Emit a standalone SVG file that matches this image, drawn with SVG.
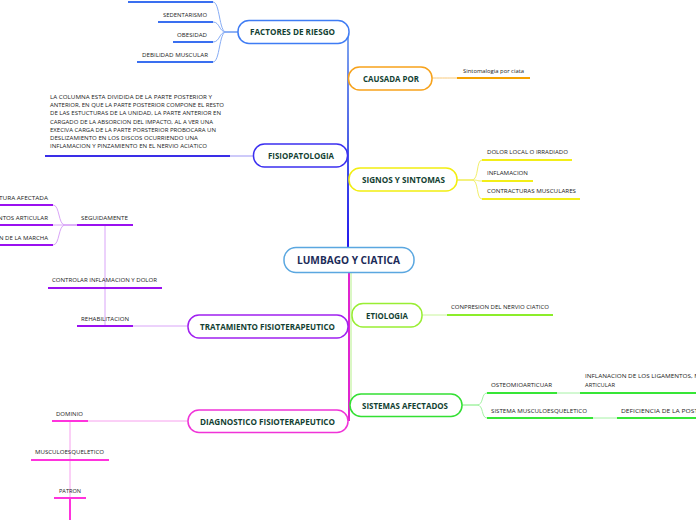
<svg xmlns="http://www.w3.org/2000/svg" width="696" height="520" viewBox="0 0 696 520">
<style>
.box{fill:#fff;stroke-width:1.5}
.title{font-family:"Open Sans","Liberation Sans",sans-serif;font-weight:bold;font-size:8.5px;fill:#123f32}
.main{font-family:"Open Sans","Liberation Sans",sans-serif;font-weight:bold;font-size:10.5px;fill:#1c2b58}
.leaf{font-family:"Open Sans","Liberation Sans",sans-serif;font-size:6px;fill:#222}
.ul{stroke-width:2;fill:none}
.thin{stroke-width:1;fill:none}
</style>
<defs>
<linearGradient id="trunkUp" gradientUnits="userSpaceOnUse" x1="348" y1="34" x2="348" y2="248">
<stop offset="0" stop-color="#7fa6ef"/>
<stop offset="0.5" stop-color="#4a5fe6"/>
<stop offset="1" stop-color="#2218ee"/>
</linearGradient>
</defs>

<g id="connectors">
<!-- trunk -->
<path d="M348,34 V248" stroke="url(#trunkUp)" stroke-width="2" fill="none"/>
<path d="M351,272 V405" stroke="#b6f08a" class="thin"/>
<path d="M349,272 V421" stroke="#e024d0" stroke-width="2" fill="none"/>
<!-- factores -->
<g stroke="#86acf5" class="thin">
<path d="M238,32 H226 C219,32 220,2 213,2"/>
<path d="M238,32 H226 C219,32 220,22 213,22"/>
<path d="M238,32 H226 C219,32 220,42 213,42"/>
<path d="M238,32 H226 C219,32 220,62 213,62"/>
</g>
<g stroke="#3a6ff0" class="ul">
<path d="M128,2 H213"/>
<path d="M158,22 H213"/>
<path d="M173,42 H213"/>
<path d="M137,62 H213"/>
</g>
<!-- fisiopatologia -->
<path d="M230,156 H253" stroke="#9c95f4" class="thin"/>
<path d="M45,156 H230" stroke="#3a2ee8" class="ul"/>
<!-- causada -->
<path d="M432,78 C445,78 445,78 457,78" stroke="#f8c97a" class="thin"/>
<path d="M457,78 H530" stroke="#f5a000" class="ul"/>
<!-- signos -->
<g stroke="#f2ef6a" class="thin">
<path d="M457,180 H472 C479,180 476,160 482,160"/>
<path d="M457,180 H472 C479,180 476,181 482,181"/>
<path d="M457,180 H472 C479,180 476,199 482,199"/>
</g>
<g stroke="#f3ee18" class="ul">
<path d="M482,160 H572"/>
<path d="M482,181 H533"/>
<path d="M482,199 H580"/>
</g>
<!-- etiologia -->
<path d="M422,315 H447" stroke="#c8f59a" class="thin"/>
<path d="M447,315 H553" stroke="#8ced2a" class="ul"/>
<!-- sistemas -->
<g stroke="#a4f2a4" class="thin">
<path d="M462,405 H477 C484,405 481,393 487,393"/>
<path d="M462,405 H477 C484,405 481,418 487,418"/>
<path d="M557,393 H580"/>
<path d="M593,418 H617"/>
</g>
<g stroke="#36e636" class="ul">
<path d="M487,393 H557"/>
<path d="M580,393 H696"/>
<path d="M487,418 H593"/>
<path d="M617,418 H696"/>
</g>
<!-- tratamiento -->
<g stroke="#d9a4f8" class="thin">
<path d="M77,225 H65 C58,225 60,205 53,205"/>
<path d="M77,225 H65 C58,225 60,225 53,225"/>
<path d="M77,225 H65 C58,225 60,245 53,245"/>
<path d="M105,225 V288"/>
<path d="M105,288 V326"/>
<path d="M133,326 H188"/>
</g>
<g stroke="#9a10f0" class="ul">
<path d="M0,205 H53"/>
<path d="M0,225 H53"/>
<path d="M0,245 H53"/>
<path d="M77,225 H133"/>
<path d="M48,288 H162"/>
<path d="M77,326 H133"/>
</g>
<!-- diagnostico -->
<g stroke="#f7a0ee" class="thin">
<path d="M88,421 H188"/>
<path d="M70,421 V460"/>
<path d="M70,460 V498"/>
</g>
<g stroke="#ff33dd" class="ul">
<path d="M52,421 H88"/>
<path d="M31,460 H109"/>
<path d="M54,498 H86"/>
<path d="M70,498 V520"/>
</g>
</g>

<g id="center">
<rect class="box" x="284" y="247.5" width="130" height="25" rx="12" stroke="#5aa7e0"/>
<text class="main" x="297" y="264" textLength="103" lengthAdjust="spacingAndGlyphs">LUMBAGO Y CIATICA</text>
</g>

<g id="factores">
<rect class="box" x="238" y="20.5" width="111" height="23" rx="11" stroke="#3f7cf4"/>
<text class="title" x="250" y="35" textLength="85" lengthAdjust="spacingAndGlyphs">FACTORES DE RIESGO</text>
<text class="leaf" x="163" y="17" textLength="44" lengthAdjust="spacingAndGlyphs">SEDENTARISMO</text>
<text class="leaf" x="177" y="37" textLength="30" lengthAdjust="spacingAndGlyphs">OBESIDAD</text>
<text class="leaf" x="142" y="57" textLength="66" lengthAdjust="spacingAndGlyphs">DEBILIDAD MUSCULAR</text>
</g>

<g id="fisiopatologia">
<rect class="box" x="253.5" y="144" width="94" height="23" rx="11" stroke="#3b2ff0"/>
<text class="title" x="268" y="159" textLength="66" lengthAdjust="spacingAndGlyphs">FISIOPATOLOGIA</text>
<text class="leaf" x="50" y="99" textLength="162" lengthAdjust="spacingAndGlyphs">LA COLUMNA ESTA DIVIDIDA DE LA PARTE POSTERIOR Y</text>
<text class="leaf" x="50" y="107.2" textLength="174" lengthAdjust="spacingAndGlyphs">ANTERIOR, EN QUE LA PARTE POSTERIOR COMPONE EL RESTO</text>
<text class="leaf" x="50" y="115.4" textLength="171" lengthAdjust="spacingAndGlyphs">DE LAS ESTUCTURAS DE LA UNIDAD, LA PARTE ANTERIOR EN</text>
<text class="leaf" x="50" y="123.6" textLength="163" lengthAdjust="spacingAndGlyphs">CARGADO DE LA ABSORCION DEL IMPACTO, AL A VER UNA</text>
<text class="leaf" x="50" y="131.8" textLength="166" lengthAdjust="spacingAndGlyphs">EXECIVA CARGA DE LA PARTE PORSTERIOR PROBOCARA UN</text>
<text class="leaf" x="50" y="140" textLength="148" lengthAdjust="spacingAndGlyphs">DESLIZAMIENTO EN LOS DISCOS OCURRIENDO UNA</text>
<text class="leaf" x="50" y="148.2" textLength="157" lengthAdjust="spacingAndGlyphs">INFLAMACION Y PINZAMIENTO EN EL NERVIO ACIATICO</text>
</g>

<g id="causada">
<rect class="box" x="348.5" y="67" width="83.5" height="23" rx="11" stroke="#f7a21b"/>
<text class="title" x="363" y="82" textLength="56" lengthAdjust="spacingAndGlyphs">CAUSADA POR</text>
<text class="leaf" x="463" y="73" textLength="61" lengthAdjust="spacingAndGlyphs">Sintomalogia por ciata</text>
</g>

<g id="signos">
<rect class="box" x="349" y="168" width="108" height="23" rx="11" stroke="#f2ee10"/>
<text class="title" x="362" y="183" textLength="83" lengthAdjust="spacingAndGlyphs">SIGNOS Y SINTOMAS</text>
<text class="leaf" x="487" y="154" textLength="81" lengthAdjust="spacingAndGlyphs">DOLOR LOCAL O IRRADIADO</text>
<text class="leaf" x="487" y="174.5" textLength="41" lengthAdjust="spacingAndGlyphs">INFLAMACION</text>
<text class="leaf" x="487" y="193" textLength="89" lengthAdjust="spacingAndGlyphs">CONTRACTURAS MUSCULARES</text>
</g>

<g id="etiologia">
<rect class="box" x="352" y="303.5" width="70" height="23.5" rx="11" stroke="#99ee33"/>
<text class="title" x="366" y="319" textLength="42" lengthAdjust="spacingAndGlyphs">ETIOLOGIA</text>
<text class="leaf" x="451" y="309" textLength="98" lengthAdjust="spacingAndGlyphs">CONPRESION DEL NERVIO CIATICO</text>
</g>

<g id="sistemas">
<rect class="box" x="350" y="394" width="112" height="22.5" rx="11" stroke="#33e033"/>
<text class="title" x="362" y="408.5" textLength="86" lengthAdjust="spacingAndGlyphs">SISTEMAS AFECTADOS</text>
<text class="leaf" x="491" y="387" textLength="61" lengthAdjust="spacingAndGlyphs">OSTEOMIOARTICUAR</text>
<text class="leaf" x="585" y="378" textLength="115" lengthAdjust="spacingAndGlyphs">INFLANACION DE LOS LIGAMENTOS, M</text>
<text class="leaf" x="585" y="387" textLength="30" lengthAdjust="spacingAndGlyphs">ARTICULAR</text>
<text class="leaf" x="491" y="413" textLength="96" lengthAdjust="spacingAndGlyphs">SISTEMA MUSCULOESQUELETICO</text>
<text class="leaf" x="621" y="413" textLength="82" lengthAdjust="spacingAndGlyphs">DEFICIENCIA  DE LA POSTU</text>
</g>

<g id="tratamiento">
<rect class="box" x="188" y="315" width="160" height="23" rx="11" stroke="#a020f0"/>
<text class="title" x="200" y="330" textLength="135" lengthAdjust="spacingAndGlyphs">TRATAMIENTO FISIOTERAPEUTICO</text>
<text class="leaf" x="81" y="219.5" textLength="47" lengthAdjust="spacingAndGlyphs">SEGUIDAMENTE</text>
<text class="leaf" x="-1" y="199.5" textLength="49" lengthAdjust="spacingAndGlyphs">TURA AFECTADA</text>
<text class="leaf" x="-2" y="219.5" textLength="50" lengthAdjust="spacingAndGlyphs">NTOS ARTICULAR</text>
<text class="leaf" x="-1" y="239.5" textLength="49" lengthAdjust="spacingAndGlyphs">N DE LA MARCHA</text>
<text class="leaf" x="52" y="282" textLength="105" lengthAdjust="spacingAndGlyphs">CONTROLAR INFLAMACION Y DOLOR</text>
<text class="leaf" x="81" y="320.5" textLength="48" lengthAdjust="spacingAndGlyphs">REHABILITACION</text>
</g>

<g id="diagnostico">
<rect class="box" x="188" y="410" width="160" height="22.5" rx="11" stroke="#f033d8"/>
<text class="title" x="200" y="424.5" textLength="135" lengthAdjust="spacingAndGlyphs">DIAGNOSTICO FISIOTERAPEUTICO</text>
<text class="leaf" x="56" y="415.5" textLength="27" lengthAdjust="spacingAndGlyphs">DOMINIO</text>
<text class="leaf" x="35" y="454" textLength="69" lengthAdjust="spacingAndGlyphs">MUSCULOESQUELETICO</text>
<text class="leaf" x="59" y="492.5" textLength="22" lengthAdjust="spacingAndGlyphs">PATRON</text>
</g>
</svg>
